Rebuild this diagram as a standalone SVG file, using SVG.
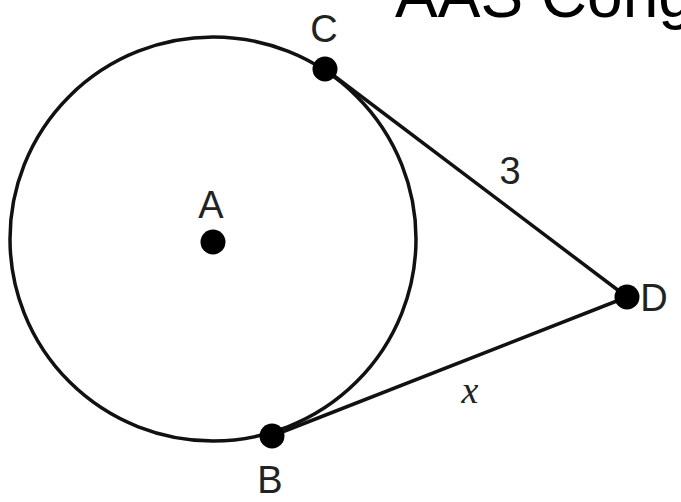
<svg xmlns="http://www.w3.org/2000/svg" width="681" height="502" viewBox="0 0 681 502">
<style>
.lbl{font-family:"Liberation Sans",Arial,sans-serif;font-size:38px;fill:#222;}
.ln{stroke:#111;stroke-width:3.5;fill:none;}
.dot{fill:#000;}
</style>
<rect width="681" height="502" fill="#fff"/>
<text x="395" y="17" style="font-family:'Liberation Sans',Arial,sans-serif;font-size:64px;fill:#000">AAS Cong</text>
<g id="circleA"><ellipse cx="213" cy="239" rx="203" ry="202" class="ln" stroke-width="3"/></g>
<g id="connectors">
<line x1="325" y1="69" x2="627" y2="297" class="ln"/>
<line x1="272" y1="436" x2="627" y2="297" class="ln"/>
</g>
<g id="A"><circle cx="213" cy="242" r="12.5" class="dot"/><text x="211" y="218" text-anchor="middle" class="lbl">A</text></g>
<g id="C"><circle cx="325" cy="69" r="12.5" class="dot"/><text x="324" y="42" text-anchor="middle" class="lbl">C</text></g>
<g id="D"><circle cx="627" cy="297" r="12.5" class="dot"/><text x="654" y="311" text-anchor="middle" class="lbl">D</text></g>
<g id="B"><circle cx="272" cy="436" r="12.5" class="dot"/><text x="270" y="493" text-anchor="middle" class="lbl">B</text></g>
<text x="510" y="184" text-anchor="middle" class="lbl">3</text>
<text x="470" y="403" text-anchor="middle" style="font-family:'Liberation Serif','Times New Roman',serif;font-style:italic;font-size:38px;fill:#222">x</text>
</svg>
